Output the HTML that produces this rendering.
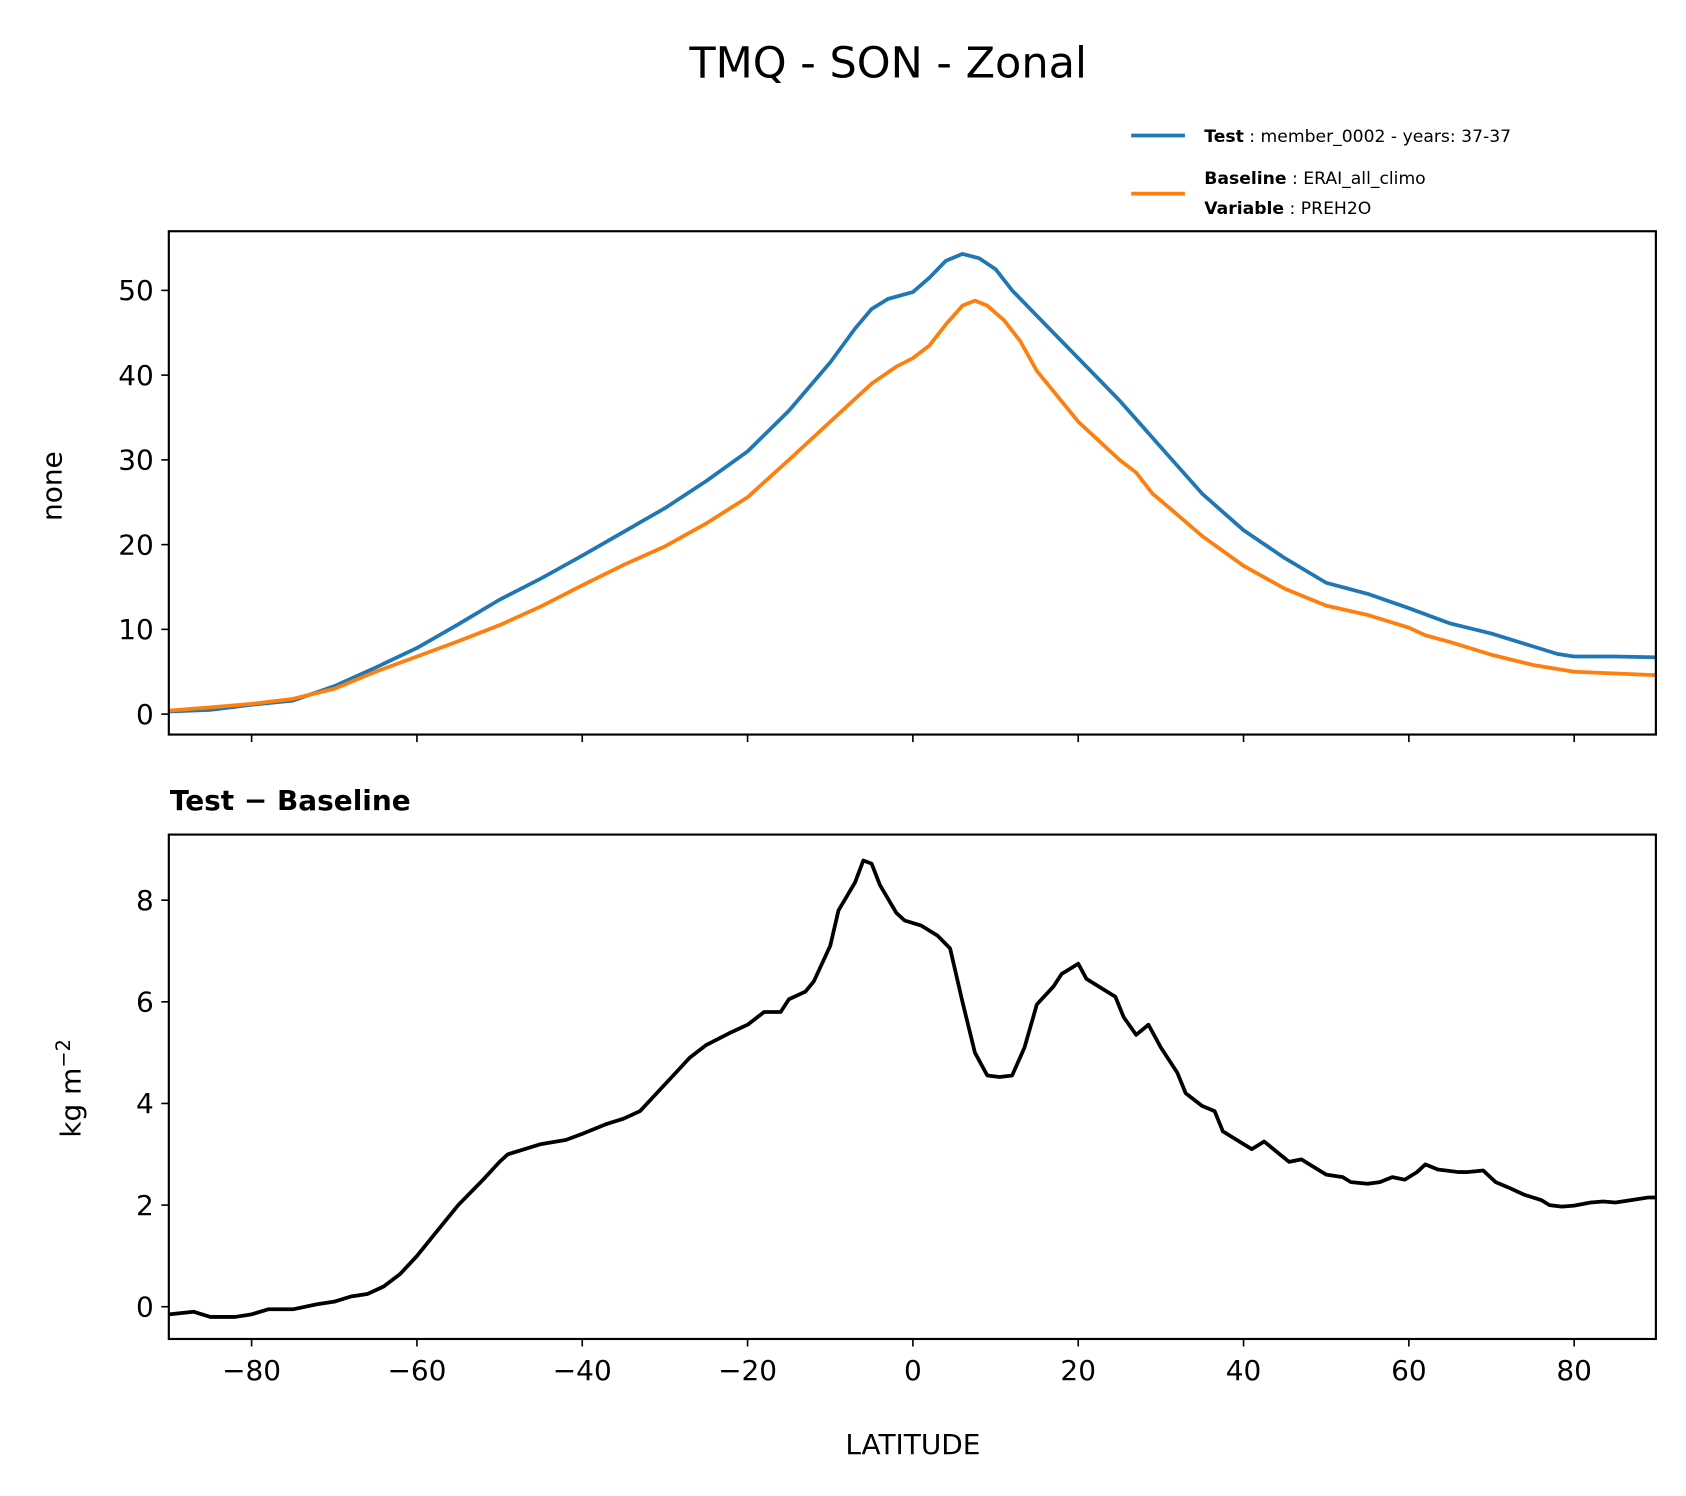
<!DOCTYPE html>
<html><head><meta charset="utf-8"><style>
html,body{margin:0;padding:0;background:#fff;}
svg{display:block;}
svg text{font-family:"DejaVu Sans","Liberation Sans",sans-serif;}
</style></head><body>
<svg id="chart" width="1686" height="1496" viewBox="0 0 1568 1391" preserveAspectRatio="none" xmlns="http://www.w3.org/2000/svg">
<text x="826" y="72" font-size="40" text-anchor="middle">TMQ - SON - Zonal</text>
<g>
<line x1="1052" y1="126" x2="1102" y2="126" stroke="#1f77b4" stroke-width="3.5"/>
<text x="1120" y="132" font-size="16"><tspan font-weight="bold">Test</tspan> : member_0002 - years: 37-37</text>
<line x1="1052" y1="180" x2="1102" y2="180" stroke="#ff7f0e" stroke-width="3.5"/>
<text x="1120" y="171" font-size="16"><tspan font-weight="bold">Baseline</tspan> : ERAI_all_climo</text>
<text x="1120" y="199" font-size="16"><tspan font-weight="bold">Variable</tspan> : PREH2O</text>
</g>
<text x="158" y="753" font-size="26" font-weight="bold">Test − Baseline</text>
<text x="849" y="1352" font-size="26" text-anchor="middle">LATITUDE</text>
<text transform="translate(57,452) rotate(-90)" font-size="26" text-anchor="middle">none</text>
<text transform="translate(75,1012) rotate(-90)" font-size="26" text-anchor="middle">kg m<tspan dy="-10" font-size="18">−2</tspan></text>
<g id="top"></g><g id="bot"></g>
</svg>
<script>
const testLat=[-90,-85,-80,-75,-70,-65,-60,-55,-50,-45,-40,-35,-30,-25,-20,-15,-10,-7,-5,-3,0,2,4,6,8,10,12,15,20,25,30,35,40,45,50,55,60,65,70,75,78,80,85,90];
const testVal=[0.3,0.5,1.1,1.6,3.3,5.5,7.8,10.6,13.5,16.0,18.7,21.5,24.3,27.5,31.0,35.8,41.5,45.5,47.8,49,49.8,51.5,53.5,54.3,53.8,52.5,50,47,42,37,31.5,26,21.7,18.4,15.5,14.2,12.5,10.7,9.5,8.0,7.1,6.8,6.8,6.7];
const baseLat=[-90,-85,-80,-75,-70,-65,-60,-55,-50,-45,-40,-35,-30,-25,-20,-15,-10,-5,-2,0,2,4,6,7.5,9,11,13,15,20,25,27,29,30,35,40,45,50,55,60,62,65,70,75,80,85,90];
const baseVal=[0.4,0.8,1.2,1.8,3.0,5.0,6.8,8.6,10.5,12.7,15.2,17.6,19.8,22.5,25.6,30,34.5,39,41,42,43.5,46,48.2,48.8,48.2,46.5,44,40.5,34.5,30,28.5,26,25.2,21,17.5,14.8,12.8,11.7,10.2,9.3,8.5,7.0,5.8,5.0,4.8,4.6];
const diffLat=[-90,-87,-85,-82,-80,-78,-75,-72,-70,-68,-66,-64,-62,-60,-58,-55,-52,-50,-49,-47,-45,-42,-40,-37,-35,-33,-31,-29,-27,-25,-22,-20,-18,-16,-15,-13,-12,-10,-9,-7,-6,-5,-4,-2,-1,1,3,4.5,6,7.5,9,10.5,12,13.5,15,17,18,20,21,23,24.5,25.5,27,28.5,30,32,33,35,36.5,37.5,40,41,42.5,44,45.5,47,48.5,50,52,53,55,56.5,58,59.5,61,62,63.5,66,67,69,70.5,72,74,76,77,78.5,80,82,83.5,85,87,89,90];
const diffVal=[-0.15,-0.1,-0.2,-0.2,-0.15,-0.05,-0.05,0.05,0.1,0.2,0.25,0.4,0.65,1.0,1.4,2.0,2.5,2.85,3.0,3.1,3.2,3.28,3.4,3.6,3.7,3.85,4.2,4.55,4.9,5.15,5.4,5.55,5.8,5.8,6.05,6.2,6.4,7.1,7.8,8.35,8.78,8.72,8.3,7.75,7.6,7.5,7.3,7.05,6.0,5.0,4.55,4.52,4.55,5.1,5.95,6.3,6.55,6.75,6.45,6.25,6.1,5.7,5.35,5.55,5.1,4.6,4.2,3.95,3.85,3.45,3.2,3.1,3.25,3.05,2.85,2.9,2.75,2.6,2.55,2.45,2.42,2.45,2.55,2.5,2.65,2.8,2.7,2.65,2.65,2.68,2.45,2.35,2.2,2.1,2.0,1.97,1.99,2.05,2.07,2.05,2.1,2.15,2.15];
const xTicks=[-80,-60,-40,-20,0,20,40,60,80];
const topTicks=[0,10,20,30,40,50];
const botTicks=[0,2,4,6,8];
const NS='http://www.w3.org/2000/svg';
const X0=157,X1=1540;
const xs=v=>849+v*7.6875;
const yTop=v=>664-v*7.88;
const yBot=v=>1215-v*47.25;
function mk(tag,attrs,parent,txt){const e=document.createElementNS(NS,tag);for(const k in attrs)e.setAttribute(k,attrs[k]);if(txt!==undefined)e.textContent=txt;parent.appendChild(e);return e;}
function line(g,lat,val,ys,color,name){
  const d=lat.map((la,i)=>(i?'L':'M')+xs(la).toFixed(1)+','+ys(val[i]).toFixed(1)).join('');
  const p=mk('path',{d:d,fill:'none',stroke:color,'stroke-width':3.5,'stroke-linejoin':'round'},g);
  
  
}
function panel(g,top,bot,ticks,ys,showX,name){
  
  
  ticks.forEach(t=>{const y=ys(t);mk('line',{x1:X0-7,x2:X0,y1:y,y2:y,stroke:'#000','stroke-width':1.5},g);
    const tx=mk('text',{x:X0-14,y:y+9,'font-size':26,'text-anchor':'end'},g,String(t));
    
    });
  xTicks.forEach(t=>{const x=xs(t);mk('line',{x1:x,x2:x,y1:bot,y2:bot+7,stroke:'#000','stroke-width':1.5},g);
    if(showX){const tx=mk('text',{x:x,y:bot+38,'font-size':26,'text-anchor':'middle'},g,(t<0?'−':'')+Math.abs(t));
      
      }});
}
const gt=document.getElementById('top'),gb=document.getElementById('bot');
panel(gt,215,683,topTicks,yTop,false,'top-panel');
line(gt,testLat,testVal,yTop,'#1f77b4','test-line');
line(gt,baseLat,baseVal,yTop,'#ff7f0e','baseline-line');
mk('rect',{x:X0,y:215,width:X1-X0,height:468,fill:'none',stroke:'#000','stroke-width':2},gt);
panel(gb,776,1245,botTicks,yBot,true,'bottom-panel');
line(gb,diffLat,diffVal,yBot,'#000','diff-line');
mk('rect',{x:X0,y:776,width:X1-X0,height:469,fill:'none',stroke:'#000','stroke-width':2},gb);
</script>
</body></html>
